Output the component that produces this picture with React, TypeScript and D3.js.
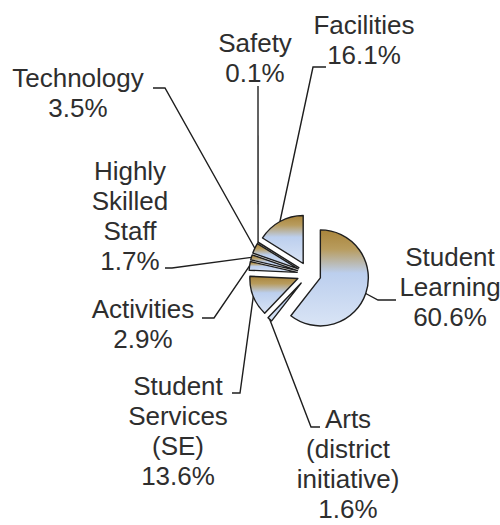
import React from "react";
import * as d3 from "d3";

const categories = [
  "Student Learning",
  "Arts (district initiative)",
  "Student Services (SE)",
  "Activities",
  "Highly Skilled Staff",
  "Technology",
  "Safety",
  "Facilities",
];
const values = [60.6, 1.6, 13.6, 2.9, 1.7, 3.5, 0.1, 16.1];
const labelLines = [
  ["Student", "Learning", "60.6%"],
  ["Arts", "(district", "initiative)", "1.6%"],
  ["Student", "Services", "(SE)", "13.6%"],
  ["Activities", "2.9%"],
  ["Highly", "Skilled", "Staff", "1.7%"],
  ["Technology", "3.5%"],
  ["Safety", "0.1%"],
  ["Facilities", "16.1%"],
];

// layout: label block center x, first baseline y, leader knee points
const layout: { cx: number; y0: number; knees: [number, number][] }[] = [
  { cx: 450, y0: 266, knees: [[378, 300], [396, 300]] },
  { cx: 348, y0: 428, knees: [[311, 427], [320, 427]] },
  { cx: 178, y0: 395, knees: [[240, 393], [232, 393]] },
  { cx: 143, y0: 318, knees: [[214, 318], [202, 318]] },
  { cx: 130, y0: 180, knees: [[172, 268], [165, 268]] },
  { cx: 78, y0: 87, knees: [[165, 88], [153, 88]] },
  { cx: 255, y0: 52, knees: [[258, 86]] },
  { cx: 364, y0: 34, knees: [[313, 67], [326, 67]] },
];

const W = 500;
const H = 525;
const CX = 309;
const CY = 274;
const R = 48;
const EXPLODE = 12;
const LINE_H = 30;

export default function App() {
  const data = categories.map((c, i) => ({ name: c, value: values[i], i }));
  const pie = d3
    .pie<any>()
    .sort(null)
    .value((d: any) => d.value)
    .startAngle(0)
    .endAngle(2 * Math.PI);
  const arcs = pie(data);
  const arc = d3.arc<any>().innerRadius(0).outerRadius(R);
  const outerPt = d3.arc<any>().innerRadius(R).outerRadius(R);
  const unit = d3.arc<any>().innerRadius(EXPLODE).outerRadius(EXPLODE);

  return (
    <div style={{ position: "absolute", left: 0, top: 0 }}>
      <svg width={W} height={H} style={{ display: "block", background: "#fff" }}>
        <defs>
          <linearGradient id="sliceGrad" x1="0" y1="0" x2="0" y2="1">
            <stop offset="0" stopColor="#a9843a" />
            <stop offset="0.2" stopColor="#b89c5e" />
            <stop offset="0.45" stopColor="#bccfee" />
            <stop offset="1" stopColor="#d9e4f5" />
          </linearGradient>
        </defs>
        <g transform={`translate(${CX},${CY})`}>
          {arcs.map((a, i) => {
            const [ox, oy] = unit.centroid(a);
            return (
              <path
                key={i}
                d={arc(a) as string}
                transform={`translate(${ox},${oy})`}
                fill="url(#sliceGrad)"
                stroke="#1e1e1e"
                strokeWidth={1.4}
                strokeLinejoin="round"
              />
            );
          })}
        </g>
        {arcs.map((a, i) => {
          const [ox, oy] = unit.centroid(a);
          const [px, py] = outerPt.centroid(a);
          const start: [number, number] = [CX + ox + px, CY + oy + py];
          const pts = [start, ...layout[i].knees];
          return (
            <path
              key={"l" + i}
              d={d3.line()(pts) as string}
              fill="none"
              stroke="#1e1e1e"
              strokeWidth={1.4}
            />
          );
        })}
        {labelLines.map((lines, i) => (
          <text
            key={"t" + i}
            x={layout[i].cx}
            y={layout[i].y0}
            textAnchor="middle"
            fontFamily="'Liberation Sans', Arial, sans-serif"
            fontSize={26}
            fill="#2e2e2e"
          >
            {lines.map((ln, j) => (
              <tspan key={j} x={layout[i].cx} y={layout[i].y0 + j * LINE_H}>
                {ln}
              </tspan>
            ))}
          </text>
        ))}
      </svg>
    </div>
  );
}
